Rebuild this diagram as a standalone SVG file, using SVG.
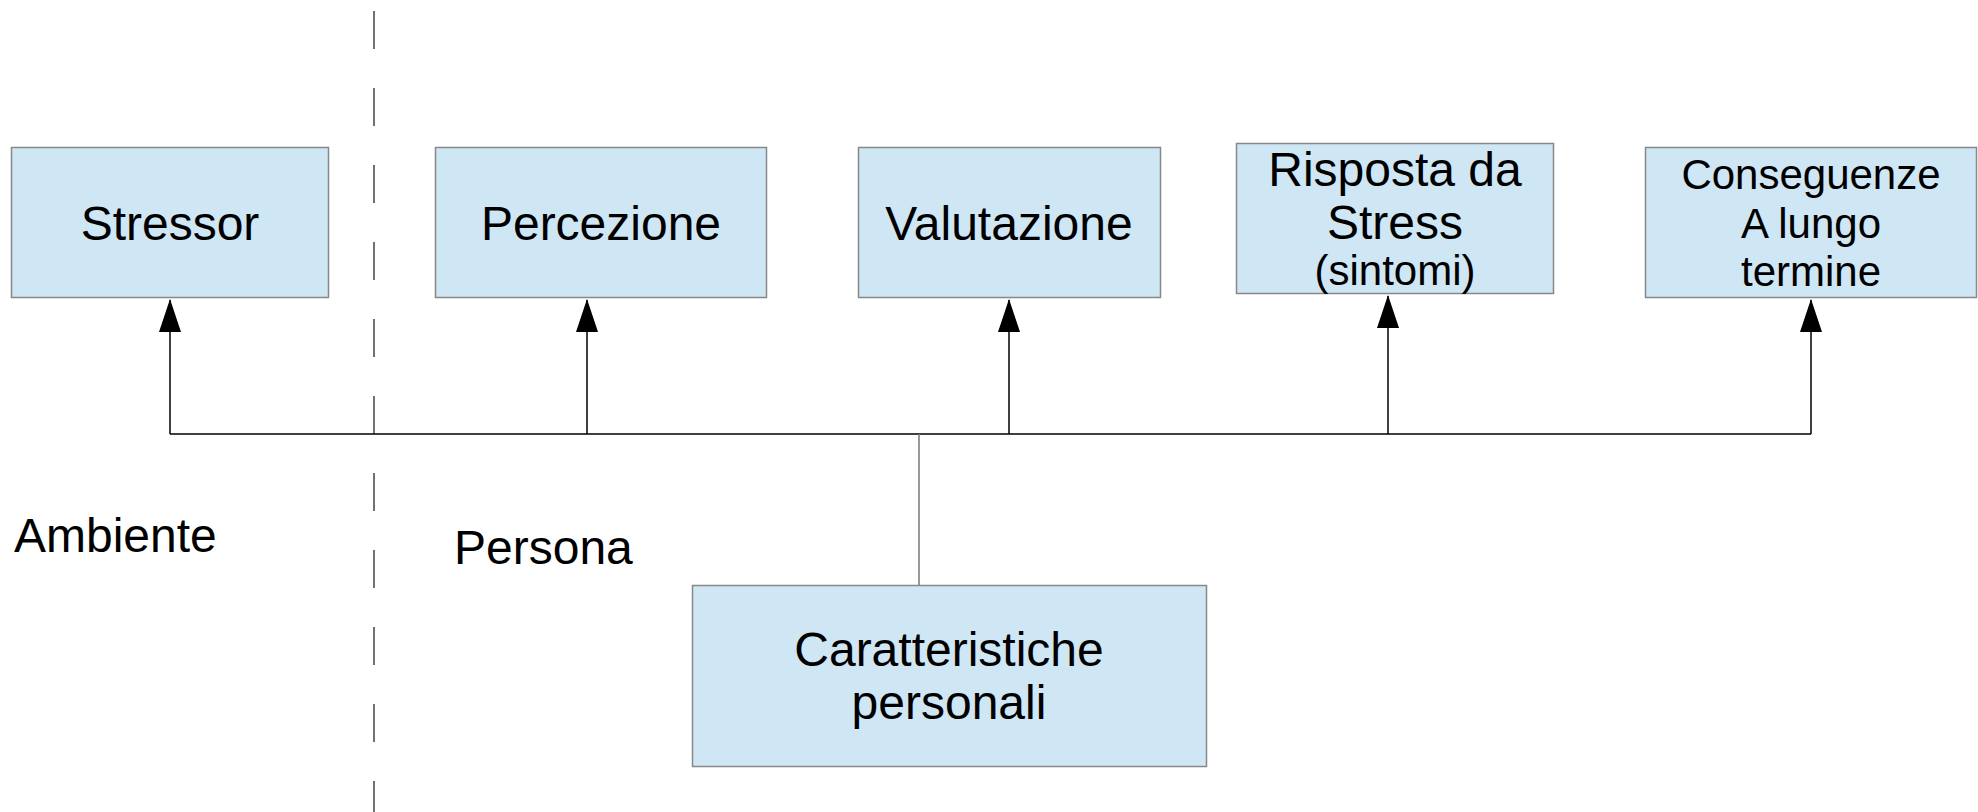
<svg xmlns="http://www.w3.org/2000/svg" width="1978" height="812" viewBox="0 0 1978 812">
<defs>
<style>
.box{fill:#cfe6f4;stroke:#888;stroke-width:1.5}
.t{font-family:"Liberation Sans",Arial,sans-serif;font-size:48px;fill:#000;text-anchor:middle}
.s{font-size:42px}
.l{font-family:"Liberation Sans",Arial,sans-serif;font-size:48px;fill:#000}
.c{stroke:#000;stroke-width:1.5;fill:none}
</style>
<marker id="ah" markerWidth="22" markerHeight="34" refX="11" refY="1" orient="0" markerUnits="userSpaceOnUse" viewBox="0 0 22 34">
<path d="M11 0 L22 33 L0 33 Z" fill="#000"/>
</marker>
</defs>
<rect width="1978" height="812" fill="#fff"/>
<line x1="374" y1="11" x2="374" y2="812" stroke="#444" stroke-width="1.5" stroke-dasharray="38 39"/>
<g id="connectors">
<path class="c" d="M170 434 H1811"/>
<line x1="919" y1="434" x2="919" y2="585" stroke="#777" stroke-width="1.5"/>
<line class="c" x1="170" y1="434" x2="170" y2="300" marker-end="url(#ah)"/>
<line class="c" x1="587" y1="434" x2="587" y2="300" marker-end="url(#ah)"/>
<line class="c" x1="1009" y1="434" x2="1009" y2="300" marker-end="url(#ah)"/>
<line class="c" x1="1388" y1="434" x2="1388" y2="296" marker-end="url(#ah)"/>
<line class="c" x1="1811" y1="434" x2="1811" y2="300" marker-end="url(#ah)"/>
</g>
<g id="stressor"><rect class="box" x="11.5" y="147.5" width="317" height="150"/><text class="t" x="170" y="240">Stressor</text></g>
<g id="percezione"><rect class="box" x="435.5" y="147.5" width="331" height="150"/><text class="t" x="601" y="240">Percezione</text></g>
<g id="valutazione"><rect class="box" x="858.5" y="147.5" width="302" height="150"/><text class="t" x="1009" y="240">Valutazione</text></g>
<g id="risposta"><rect class="box" x="1236.5" y="143.5" width="317" height="150"/><text class="t" x="1395" y="186">Risposta da</text><text class="t" x="1395" y="239">Stress</text><text class="t s" x="1395" y="285">(sintomi)</text></g>
<g id="conseguenze"><rect class="box" x="1645.5" y="147.5" width="331" height="150"/><text class="t s" x="1811" y="189">Conseguenze</text><text class="t s" x="1811" y="238">A lungo</text><text class="t s" x="1811" y="286">termine</text></g>
<g id="caratteristiche"><rect class="box" x="692.5" y="585.5" width="514" height="181"/><text class="t" x="949" y="666">Caratteristiche</text><text class="t" x="949" y="719">personali</text></g>
<g id="ambiente"><text class="l" x="14" y="552">Ambiente</text></g>
<g id="persona"><text class="l" x="454" y="564">Persona</text></g>
</svg>
